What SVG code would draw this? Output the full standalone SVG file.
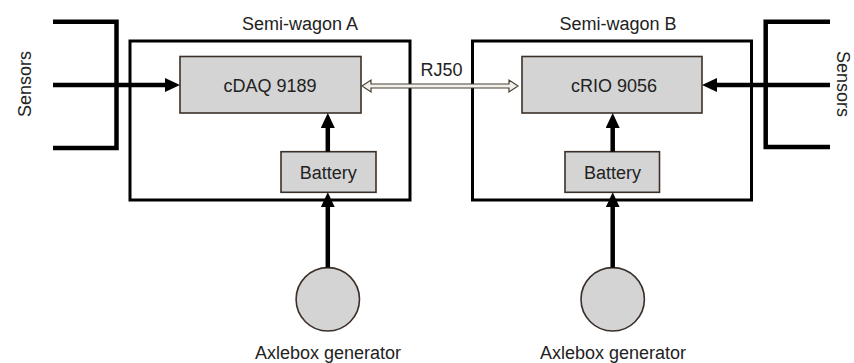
<svg xmlns="http://www.w3.org/2000/svg" width="854" height="363" viewBox="0 0 854 363">
  <style>
    .lbl { font-family: "Liberation Sans", Arial, sans-serif; font-size: 18px; fill: #222; text-anchor: middle; }
    .wagon { fill: none; stroke: #000; stroke-width: 3; }
    .dev { fill: #d4d4d4; stroke: #3b3029; stroke-width: 1.6; }
    .thick { fill: none; stroke: #000; stroke-width: 4.5; }
    .flow { fill: none; stroke: #000; stroke-width: 4.5; marker-end: url(#ah); }
    .rj { fill: #f2f0ea; stroke: #4a3f35; stroke-width: 1.2; }
  </style>
  <defs>
    <marker id="ah" markerUnits="userSpaceOnUse" markerWidth="15" markerHeight="14" refX="5" refY="7" orient="auto">
      <path d="M0,0 L15,7 L0,14 z" fill="#000"/>
    </marker>
  </defs>
  <rect width="854" height="363" fill="#fff"/>

  <g id="semi-wagon-a">
    <rect class="wagon" x="130" y="41" width="280" height="159"/>
    <text class="lbl" x="300" y="29.5">Semi-wagon A</text>
  </g>
  <g id="semi-wagon-b">
    <rect class="wagon" x="472.5" y="41" width="279" height="159"/>
    <text class="lbl" x="618" y="29.5">Semi-wagon B</text>
  </g>

  <g id="cdaq">
    <rect class="dev" x="180" y="56.5" width="181" height="56.5"/>
    <text class="lbl" x="270" y="91.5">cDAQ 9189</text>
  </g>
  <g id="crio">
    <rect class="dev" x="522" y="56.5" width="180" height="56.5"/>
    <text class="lbl" x="614" y="91.5">cRIO 9056</text>
  </g>
  <g id="battery-a">
    <rect class="dev" x="281" y="151.7" width="95" height="40.6"/>
    <text class="lbl" x="328.3" y="179">Battery</text>
  </g>
  <g id="battery-b">
    <rect class="dev" x="565" y="151.7" width="94.5" height="40.6"/>
    <text class="lbl" x="612.5" y="179">Battery</text>
  </g>
  <g id="generator-a">
    <circle class="dev" cx="327.8" cy="299.3" r="31.7"/>
    <text class="lbl" x="328" y="359">Axlebox generator</text>
  </g>
  <g id="generator-b">
    <circle class="dev" cx="612.7" cy="299.3" r="31.7"/>
    <text class="lbl" x="613" y="359">Axlebox generator</text>
  </g>
  <g id="sensors-a">
    <path class="thick" d="M53,21.7 H116.5 V148 H53"/>
    <text class="lbl" transform="translate(30.5,84) rotate(-90)" x="0" y="0">Sensors</text>
  </g>
  <g id="sensors-b">
    <path class="thick" d="M830,21.7 H765.7 V147 H830"/>
    <text class="lbl" transform="translate(837,84) rotate(90)" x="0" y="0">Sensors</text>
  </g>

  <g id="connectors">
    <line class="flow" x1="53" y1="85" x2="170" y2="85"/>
    <line class="flow" x1="830" y1="85" x2="712" y2="85"/>
    <line class="flow" x1="327.8" y1="151.7" x2="327.8" y2="123"/>
    <line class="flow" x1="612.7" y1="151.7" x2="612.7" y2="123"/>
    <line class="flow" x1="327.8" y1="267.6" x2="327.8" y2="202.3"/>
    <line class="flow" x1="612.7" y1="267.6" x2="612.7" y2="202.3"/>
    <polygon class="rj" points="362,86 371,80 371,84 509,84 509,80 518,86 509,92 509,88 371,88 371,92"/>
    <text class="lbl" x="441.5" y="75.5">RJ50</text>
  </g>
</svg>
